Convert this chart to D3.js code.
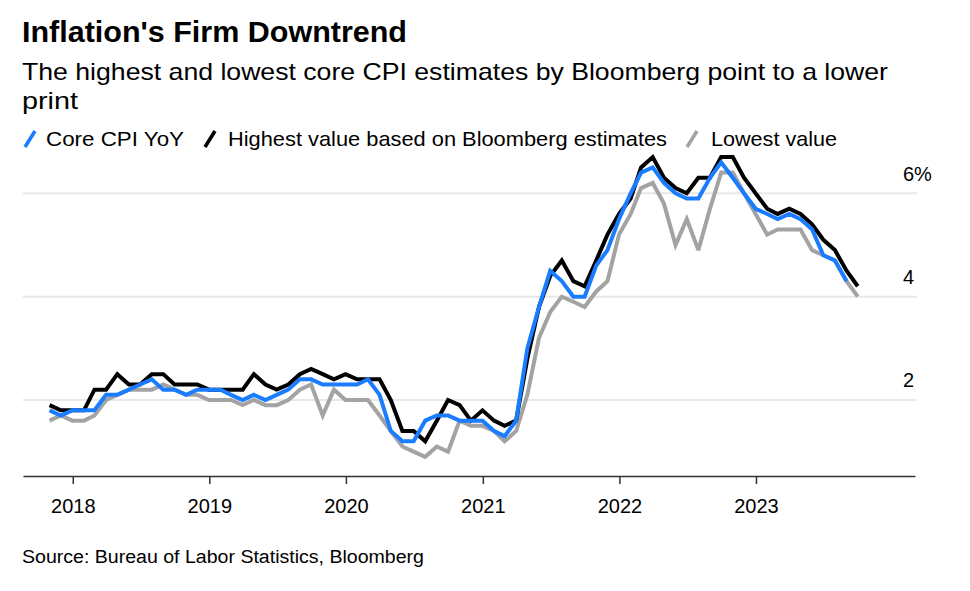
<!DOCTYPE html>
<html><head><meta charset="utf-8">
<script src="https://cdn.jsdelivr.net/npm/d3@7"></script>
<style>
html,body{margin:0;padding:0;background:#fff;}
text{font-family:"Liberation Sans",Arial,Helvetica,sans-serif;fill:#000;}
</style></head>
<body><svg id="chart" width="970" height="591"></svg>
<script>
// ---- data (monthly, Oct 2017 .. Sep 2023) ----
const firstMonth = "2017-10";
const lastMonth = "2023-09";
const coreCPI = [
  1.8,1.7,1.8,
  1.8,1.8,2.1,2.1,2.2,2.3,2.4,2.2,2.2,2.1,2.2,2.2,
  2.2,2.1,2.0,2.1,2.0,2.1,2.2,2.4,2.4,2.3,2.3,2.3,
  2.3,2.4,2.1,1.4,1.2,1.2,1.6,1.7,1.7,1.6,1.6,1.6,
  1.4,1.3,1.6,3.0,3.8,4.5,4.3,4.0,4.0,4.6,4.9,5.5,
  6.0,6.4,6.5,6.2,6.0,5.9,5.9,6.3,6.6,6.3,6.0,5.7,
  5.6,5.5,5.6,5.5,5.3,4.8,4.7,4.3
];
const highest = [
  1.9,1.8,1.8,1.8,2.2,2.2,2.5,2.3,2.3,2.5,2.5,2.3,
  2.3,2.3,2.2,2.2,2.2,2.2,2.5,2.3,2.2,2.3,2.5,2.6,
  2.5,2.4,2.5,2.4,2.4,2.4,2.0,1.4,1.4,1.2,1.6,2.0,
  1.9,1.6,1.8,1.6,1.5,1.6,2.8,3.8,4.4,4.7,4.3,4.2,
  4.7,5.2,5.6,5.9,6.5,6.7,6.3,6.1,6.0,6.3,6.3,6.7,
  6.7,6.3,6.0,5.7,5.6,5.7,5.6,5.4,5.1,4.9,4.5,4.2
];
const lowest = [
  1.6,1.7,1.6,1.6,1.7,2.0,2.1,2.2,2.2,2.2,2.3,2.2,
  2.1,2.1,2.0,2.0,2.0,1.9,2.0,1.9,1.9,2.0,2.2,2.3,
  1.7,2.2,2.0,2.0,2.0,1.7,1.4,1.1,1.0,0.9,1.1,1.0,
  1.6,1.5,1.5,1.4,1.2,1.4,2.1,3.2,3.7,4.0,3.9,3.8,
  4.1,4.3,5.2,5.6,6.1,6.2,5.8,5.0,5.5,4.9,5.7,6.4,
  6.4,6.0,5.6,5.2,5.3,5.3,5.3,4.9,4.8,4.7,4.3,4.0
];
const yTicks = [2, 4, 6];
const xTickYears = [2018, 2019, 2020, 2021, 2022, 2023];
const seriesNames = ["Core CPI YoY", "Highest value based on Bloomberg estimates", "Lowest value"];
const seriesColors = ["#1a7cff", "#000000", "#a3a3a3"];

// ---- build dates (month-end) ----
const pm = d3.timeParse("%Y-%m");
const monthStarts = d3.timeMonth.range(pm(firstMonth), d3.timeMonth.offset(pm(lastMonth), 1));
const dates = monthStarts.map(d => d3.timeDay.offset(d3.timeMonth.offset(d, 1), -1));

const svg = d3.select("#chart");

const x = d3.scaleTime()
  .domain([new Date(2017, 7, 21), new Date(2024, 2, 1)])
  .range([23, 915]);
const y = d3.scaleLinear().domain([0.5, 7]).range([477.5, 141.6]);

// gridlines
svg.append("g").selectAll("line").data(yTicks).join("line")
  .attr("x1", 23).attr("x2", 917)
  .attr("y1", d => y(d)).attr("y2", d => y(d))
  .attr("stroke", "#e8e8e8").attr("stroke-width", 2);

// y labels
svg.append("g").selectAll("text").data(yTicks).join("text")
  .attr("x", 903).attr("y", d => y(d) - 12.5)
  .attr("font-size", 20)
  .text(d => d === 6 ? d + "%" : d);

// x axis
const xAxis = d3.axisBottom(x)
  .tickValues(xTickYears.map(yr => new Date(yr, 0, 1)))
  .tickFormat(d3.timeFormat("%Y"))
  .tickSizeInner(8).tickSizeOuter(0).tickPadding(15);
const gx = svg.append("g").attr("transform", "translate(0,476)").call(xAxis);
gx.select(".domain").attr("stroke", "#333").attr("stroke-width", 1.5);
gx.selectAll(".tick line").attr("stroke", "#333").attr("stroke-width", 1.5);
gx.selectAll(".tick text").attr("font-size", 20).attr("font-family", "Liberation Sans, Arial, sans-serif").attr("fill", "#000");

// lines
const line = d3.line().x(d => x(d.date)).y(d => y(d.v));
const mk = arr => arr.map((v, i) => ({date: dates[i], v}));
const plot = [
  {vals: lowest, color: seriesColors[2]},
  {vals: highest, color: seriesColors[1]},
  {vals: coreCPI, color: seriesColors[0]}
];
svg.append("g").selectAll("path").data(plot).join("path")
  .attr("d", d => line(mk(d.vals)))
  .attr("fill", "none")
  .attr("stroke", d => d.color)
  .attr("stroke-width", 4)
  .attr("stroke-linejoin", "miter")
  .attr("stroke-miterlimit", 3);

// title / subtitle
svg.append("text").attr("x", 22).attr("y", 42)
  .attr("font-size", 30).attr("font-weight", "bold")
  .attr("textLength", 385).attr("lengthAdjust", "spacingAndGlyphs")
  .text("Inflation's Firm Downtrend");
svg.append("text").attr("x", 22).attr("y", 80)
  .attr("font-size", 24)
  .attr("textLength", 866).attr("lengthAdjust", "spacingAndGlyphs")
  .text("The highest and lowest core CPI estimates by Bloomberg point to a lower");
svg.append("text").attr("x", 22).attr("y", 109)
  .attr("font-size", 24)
  .attr("textLength", 56).attr("lengthAdjust", "spacingAndGlyphs")
  .text("print");

// legend
const legendPos = [
  {ix: 24, tx: 46, tw: 138},
  {ix: 204, tx: 228, tw: 439},
  {ix: 686, tx: 711, tw: 126}
];
const lg = svg.append("g");
legendPos.forEach((p, i) => {
  lg.append("line")
    .attr("x1", p.ix + 1).attr("y1", 147)
    .attr("x2", p.ix + 11).attr("y2", 131)
    .attr("stroke", seriesColors[i]).attr("stroke-width", 3.5);
  lg.append("text").attr("x", p.tx).attr("y", 146)
    .attr("font-size", 21)
    .attr("textLength", p.tw).attr("lengthAdjust", "spacingAndGlyphs")
    .text(seriesNames[i]);
});

// source
svg.append("text").attr("x", 22).attr("y", 563)
  .attr("font-size", 18)
  .attr("textLength", 402).attr("lengthAdjust", "spacingAndGlyphs")
  .text("Source: Bureau of Labor Statistics, Bloomberg");
</script></body></html>
